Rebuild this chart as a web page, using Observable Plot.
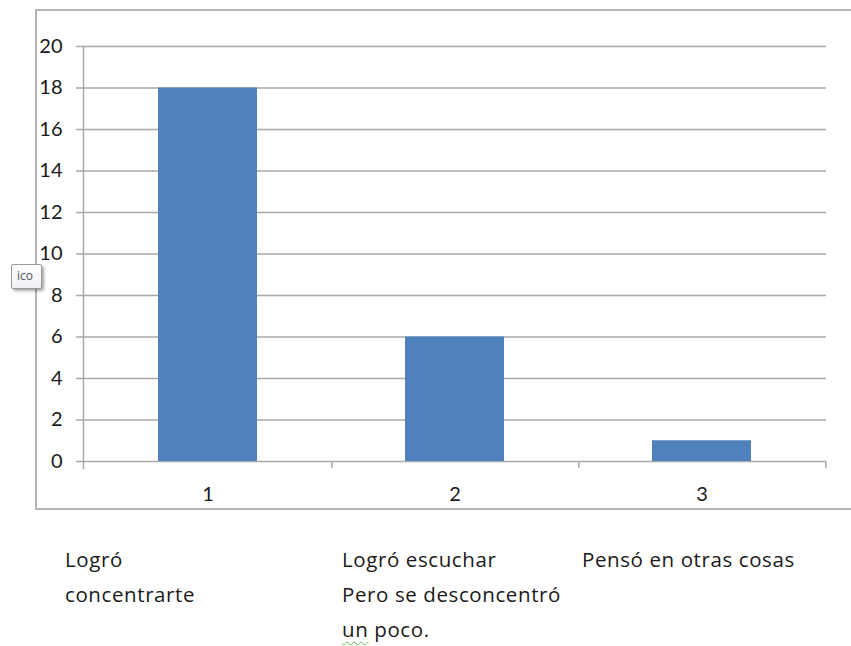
<!DOCTYPE html>
<html><head><meta charset="utf-8">
<script src="https://cdn.jsdelivr.net/npm/d3@7"></script>
<script src="https://cdn.jsdelivr.net/npm/@observablehq/plot@0.6"></script>
<style>
html,body{margin:0;padding:0;background:#fff;overflow:hidden;}
#wrap{position:relative;width:851px;height:646px;font-family:Lato,"Open Sans",sans-serif;}
#border{position:absolute;left:35px;top:9px;width:900px;height:497px;border:2px solid #b3b3b3;}
#chart{position:absolute;left:0;top:0;}
.note{position:absolute;font-family:"Open Sans",Lato,sans-serif;font-size:20.5px;letter-spacing:0.6px;line-height:35px;color:#1a1a1a;white-space:nowrap;}
.squig{text-decoration:underline wavy #6fbf4f;text-decoration-thickness:1px;text-underline-offset:4px;}
#tip{position:absolute;left:11px;top:264px;width:29px;height:23px;border:1px solid #9a9a9a;border-radius:2px;
 background:linear-gradient(#ffffff,#eef0f4);box-shadow:2px 2px 3px rgba(0,0,0,.35);
 font-family:"Open Sans",sans-serif;font-size:12px;line-height:22px;color:#555;}
#tip span{position:absolute;left:5px;}
</style></head>
<body>
<div id="wrap">
  <div id="border"></div>
  <div id="chart"></div>
  <div id="notes"></div>
  <div id="tip"><span>ico</span></div>
</div>
<script>
const categories = ["1", "2", "3"];
const values = [18, 6, 1];
const yTicks = [0, 2, 4, 6, 8, 10, 12, 14, 16, 18, 20];
const notes = [
  ["Logró", "concentrarte"],
  ["Logró escuchar", "Pero se desconcentró", "un poco."],
  ["Pensó en otras cosas"]
];

const data = categories.map((c, i) => ({cat: c, value: values[i]}));
const W = 851, H = 646, ml = 83, mr = 25, mt = 46, mb = 185;
const step = (W - ml - mr) / categories.length;
const grey = "#a9a9a9";

const chart = Plot.plot({
  width: W, height: H,
  marginLeft: ml, marginRight: mr, marginTop: mt, marginBottom: mb,
  style: {fontFamily: "Lato, 'Open Sans', sans-serif", fontSize: "20px", color: "#1a1a1a", background: "transparent"},
  x: {domain: categories, paddingInner: 0.6, paddingOuter: 0.3, label: null},
  y: {domain: [0, 20], label: null},
  marks: [
    Plot.ruleY(yTicks, {stroke: grey, strokeWidth: 1.5, insetLeft: -7}),
    Plot.barY(data, {x: "cat", y: "value", fill: "#4f81bd"}),
    Plot.frame({anchor: "left", stroke: grey, strokeWidth: 1.5, insetBottom: -7}),
    Plot.axisX({tickSize: 7, text: null, stroke: grey, strokeWidth: 1.5, dx: step / 2}),
    Plot.axisX({tickSize: 0, tickPadding: 25, label: null}),
    Plot.axisY({ticks: yTicks, tickSize: 0, tickPadding: 21, label: null})
  ]
});
document.getElementById("chart").appendChild(chart);

const lefts = [65, 342, 582];
const box = document.getElementById("notes");
notes.forEach((lines, i) => {
  const d = document.createElement("div");
  d.className = "note";
  d.style.left = lefts[i] + "px";
  d.style.top = "542px";
  lines.forEach((ln, j) => {
    const row = document.createElement("div");
    if (ln === "un poco.") {
      row.innerHTML = '<span class="squig">un</span> poco.';
    } else row.textContent = ln;
    d.appendChild(row);
  });
  box.appendChild(d);
});
</script>
</body></html>
